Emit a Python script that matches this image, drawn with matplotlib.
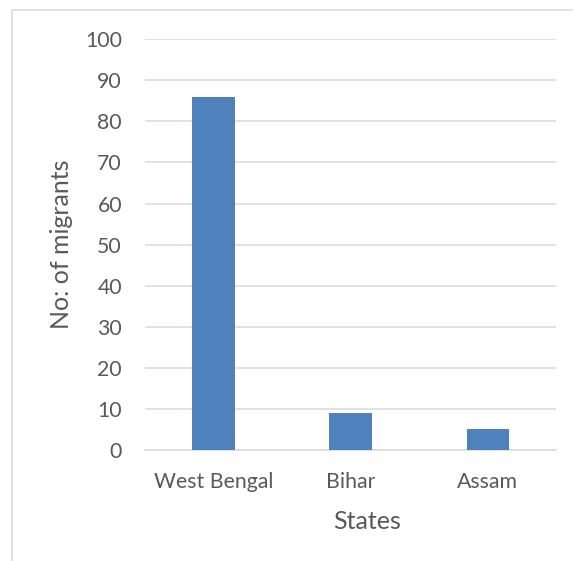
import matplotlib
matplotlib.use("Agg")
import matplotlib.pyplot as plt
from matplotlib.patches import Rectangle

states = ["West Bengal", "Bihar", "Assam"]
migrants = [86, 9, 5]
y_ticks = list(range(0, 101, 10))

text_color = "#595959"
grid_color = "#d9d9d9"
bar_color = "#4f81bd"
font = "Lato"

fig = plt.figure(figsize=(5.73, 5.61), dpi=100)
ax = fig.add_axes([0.253, 0.198, 0.718, 0.732])

x = range(len(states))
ax.bar(x, migrants, width=0.31, color=bar_color, zorder=3)

ax.set_xlim(-0.5, len(states) - 0.5)
ax.set_ylim(0, 100)
ax.set_yticks(y_ticks)
ax.set_xticks(list(x))
ax.set_xticklabels(states)

ax.grid(axis="y", color=grid_color, linewidth=1.1, zorder=0)
for side in ("top", "right", "left"):
    ax.spines[side].set_visible(False)
ax.spines["bottom"].set_color(grid_color)
ax.spines["bottom"].set_linewidth(1.1)
ax.tick_params(length=0, labelsize=15.3, labelcolor=text_color)
ax.tick_params(axis="y", pad=16.5)
ax.tick_params(axis="x", pad=16)
for lbl in ax.get_xticklabels() + ax.get_yticklabels():
    lbl.set_family(font)

ax.set_xlabel("States", fontsize=18, color=text_color, family=font, va="center")
ax.xaxis.set_label_coords(0.541, -0.175)
ax.set_ylabel("No: of migrants", fontsize=18, color=text_color, family=font, va="center")
ax.yaxis.set_label_coords(-0.202, 0.5)

# light frame around the chart area
fig.patches.append(Rectangle((11.5 / 573, -0.05), 1.2, (561 - 9.5) / 561 + 0.05,
                             transform=fig.transFigure, fill=False,
                             edgecolor=grid_color, linewidth=1.1))

fig.savefig("out.png", dpi=100)
